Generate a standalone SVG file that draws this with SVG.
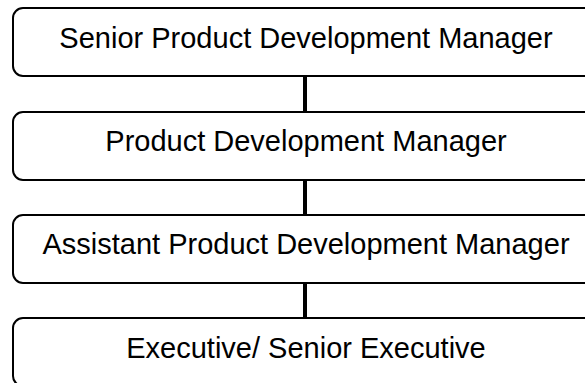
<svg xmlns="http://www.w3.org/2000/svg" width="585" height="383" viewBox="0 0 585 383">
<style>
.box{fill:#fff;stroke:#000;stroke-width:2}
.lbl{font-family:"Liberation Sans",Arial,sans-serif;font-size:29px;fill:#000;text-anchor:middle}
.conn{stroke:#000;stroke-width:4}
</style>
<rect width="585" height="383" fill="#fff"/>
<g id="connectors">
<line class="conn" x1="305" y1="77" x2="305" y2="112"/>
<line class="conn" x1="305" y1="180" x2="305" y2="215"/>
<line class="conn" x1="305" y1="283" x2="305" y2="318"/>
</g>
<g id="n1"><rect class="box" x="13" y="8" width="590" height="68" rx="10"/><text class="lbl" x="306" y="48">Senior Product Development Manager</text></g>
<g id="n2"><rect class="box" x="13" y="112" width="590" height="68" rx="10"/><text class="lbl" x="306" y="151">Product Development Manager</text></g>
<g id="n3"><rect class="box" x="13" y="215" width="590" height="68" rx="10"/><text class="lbl" x="306" y="254">Assistant Product Development Manager</text></g>
<g id="n4"><rect class="box" x="13" y="318" width="590" height="68" rx="10"/><text class="lbl" x="306" y="358">Executive/ Senior Executive</text></g>
</svg>
